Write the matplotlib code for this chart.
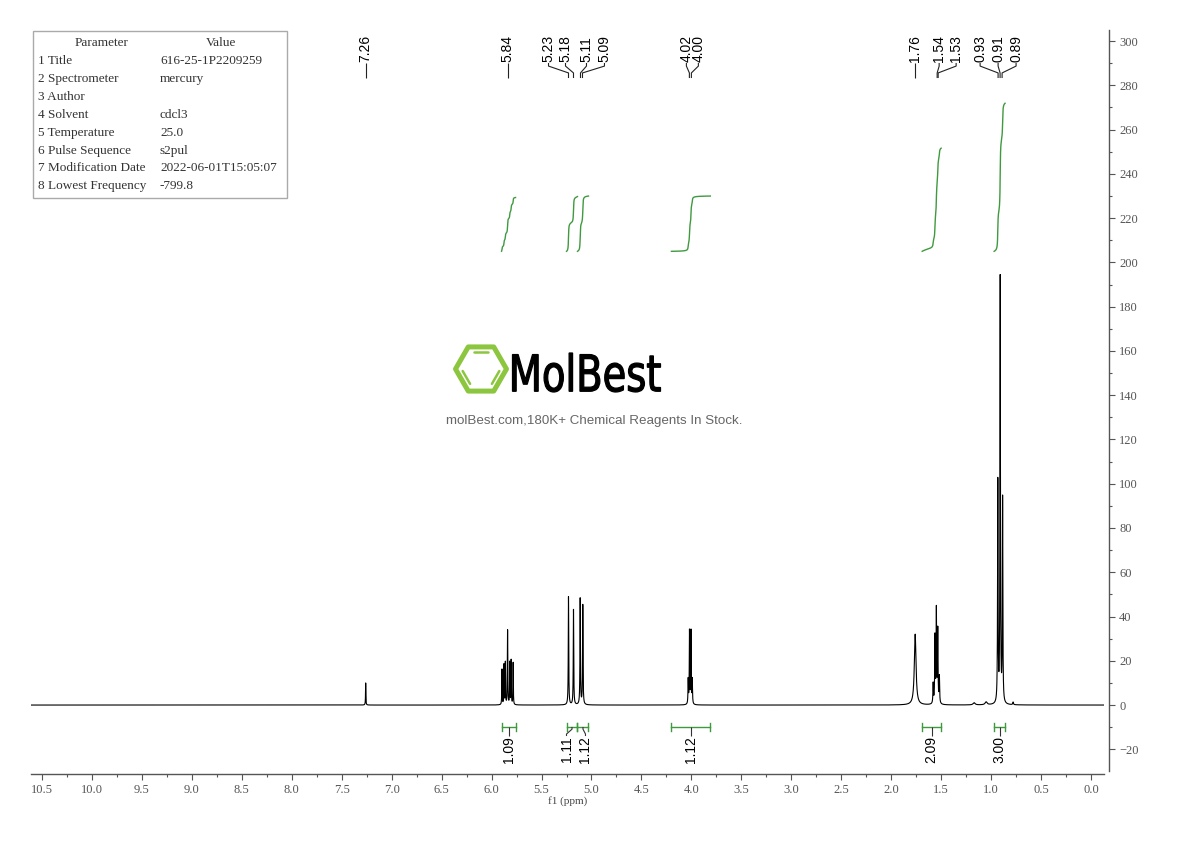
import numpy as np
import matplotlib
matplotlib.use('Agg')
import matplotlib.pyplot as plt
from matplotlib.patches import Rectangle, Polygon, PathPatch
from matplotlib.textpath import TextPath
from matplotlib.font_manager import FontProperties
from matplotlib.transforms import Affine2D
from matplotlib.ticker import MultipleLocator, FormatStrFormatter

# peak list: shift (ppm), height, half width (ppm)
peak_ppm = [7.26,
            5.896, 5.876, 5.862, 5.841, 5.839, 5.818, 5.804, 5.784,
            5.230, 5.180, 5.113, 5.087,
            4.032, 4.019, 4.004, 3.991,
            1.76,
            1.580, 1.562, 1.548, 1.534, 1.518,
            1.17, 1.05,
            0.933, 0.909, 0.885,
            0.78]
peak_height = [10,
               16, 18, 19, 21, 21, 19, 20, 19,
               49, 43, 48, 45,
               11, 33, 33, 11,
               32,
               9, 30, 42, 33, 12,
               1.0, 1.3,
               100, 192, 92,
               1.2]
peak_width = [0.002,
              0.002, 0.002, 0.002, 0.002, 0.002, 0.002, 0.002, 0.002,
              0.0026, 0.0026, 0.0026, 0.0026,
              0.0025, 0.0025, 0.0025, 0.0025,
              0.010,
              0.003, 0.003, 0.003, 0.003, 0.003,
              0.012, 0.012,
              0.0028, 0.0028, 0.0028,
              0.004]

# labelled shifts (top) and where their labels sit
shift_values = [7.26, 5.84, 5.23, 5.18, 5.11, 5.09, 4.02, 4.00, 1.76, 1.54, 1.53, 0.93, 0.91, 0.89]
shift_label_x = [7.26, 5.84, 5.43, 5.26, 5.05, 4.87, 4.05, 3.93, 1.76, 1.52, 1.35, 1.11, 0.93, 0.75]

# integrals
int_start = [5.90, 5.25, 5.14, 4.20, 1.69, 0.97]
int_end = [5.76, 5.14, 5.03, 3.81, 1.50, 0.86]
int_values = [1.09, 1.11, 1.12, 1.12, 2.09, 3.00]
int_label_x = [5.83, 5.25, 5.06, 4.005, 1.595, 0.915]

param_names = ['Title', 'Spectrometer', 'Author', 'Solvent', 'Temperature',
               'Pulse Sequence', 'Modification Date', 'Lowest Frequency']
param_values = ['616-25-1P2209259', 'mercury', '', 'cdcl3', '25.0',
                's2pul', '2022-06-01T15:05:07', '-799.8']

GREEN = '#3f9a3f'
LOGO_GREEN = '#8cc63f'
SERIF = 'Liberation Serif'
SANS = 'Liberation Sans'


def spectrum(x):
    y = np.zeros_like(x)
    for p, h, w in zip(peak_ppm, peak_height, peak_width):
        y += h * w ** 2 / ((x - p) ** 2 + w ** 2)
    return y


def leader(ax, x_near, x_far, ys, color):
    # near end sits at the peak / bracket, far end at the label
    ax.plot([x_near, x_near, x_far, x_far], ys, color=color, lw=0.8,
            solid_capstyle='butt')


fig = plt.figure(figsize=(11.9, 8.41), dpi=100)
ax = fig.add_axes([31 / 1190, 70 / 841, 1073 / 1190, 741 / 841])

x = np.linspace(10.61, -0.13, 30000)
y = spectrum(x)
ax.plot(x, y, color='black', lw=0.8)

ax.set_xlim(10.61, -0.13)
ax.set_ylim(-29.8, 305)

# integral curves + brackets
for s, e, v, lx in zip(int_start, int_end, int_values, int_label_x):
    m = (x <= s) & (x >= e)
    cum = np.cumsum(y[m])
    ax.plot(x[m], 205 + 22.3 * v * cum / cum[-1], color=GREEN, lw=1.0)
    ax.plot([s, e], [-9.9, -9.9], color=GREEN, lw=1.0)
    ax.plot([s, s], [-11.7, -8.1], color=GREEN, lw=1.0)
    ax.plot([e, e], [-11.7, -8.1], color=GREEN, lw=1.0)
    c = (s + e) / 2
    leader(ax, c, lx, [-9.9, -10.9, -13.1, -14.0], '#333333')
    ax.text(lx, -14.2, '%.2f' % v, rotation=90, ha='center', va='top',
            fontsize=10, family=SANS)

# peak labels
for p, lx in zip(shift_values, shift_label_x):
    leader(ax, p, lx, [283.3, 285.6, 288.7, 290.1], '#222222')
    ax.text(lx, 290.6, '%.2f' % p, rotation=90, ha='center', va='bottom',
            fontsize=10, family=SANS)

# axes styling
for side in ['top', 'left']:
    ax.spines[side].set_visible(False)
ax.spines['right'].set_position(('outward', 3.6))
ax.spines['bottom'].set_position(('outward', 2.2))
for side in ['right', 'bottom']:
    ax.spines[side].set_color('#555555')
    ax.spines[side].set_linewidth(1.0)

ax.yaxis.tick_right()
ax.set_yticks(np.arange(-20, 301, 20))
ax.yaxis.set_minor_locator(MultipleLocator(10))
ax.set_xticks(np.arange(0, 10.51, 0.5))
ax.xaxis.set_minor_locator(MultipleLocator(0.25))
ax.xaxis.set_major_formatter(FormatStrFormatter('%.1f'))
ax.tick_params(which='major', length=4.2, width=0.8, color='#555555',
               labelsize=9, labelcolor='#555555', pad=3)
ax.tick_params(which='minor', length=2.5, width=0.8, color='#555555')
for lab in ax.get_xticklabels() + ax.get_yticklabels():
    lab.set_family(SERIF)
ax.set_xlabel('f1 (ppm)', fontsize=8, family=SERIF, color='#444444', labelpad=0)

# overlay in pixel coordinates for the parameter box and the logo
ov = fig.add_axes([0, 0, 1, 1])
ov.set_xlim(0, 1190)
ov.set_ylim(841, 0)
ov.axis('off')
ov.patch.set_alpha(0)

ov.add_patch(Rectangle((33, 31), 254, 167, fill=False, ec='#aaaaaa', lw=1.0))
ov.text(102, 43, 'Parameter', ha='center', va='center', fontsize=9.5, family=SERIF, color='#333333')
ov.text(221, 43, 'Value', ha='center', va='center', fontsize=9.5, family=SERIF, color='#333333')
for i, (n, v) in enumerate(zip(param_names, param_values)):
    yy = 61 + i * 17.9
    ov.text(38, yy, '%d %s' % (i + 1, n), ha='left', va='center', fontsize=9.5,
            family=SERIF, color='#333333')
    ov.text(160, yy, v, ha='left', va='center', fontsize=9.5, family=SERIF, color='#333333')

# logo: hexagon with three inner bonds
cx, cy, r = 481, 369, 25.5
ang = np.radians(np.arange(0, 360, 60))
hx = cx + r * np.cos(ang)
hy = cy - r * np.sin(ang)
ov.add_patch(Polygon(np.column_stack([hx, hy]), closed=True, fill=False,
                     ec=LOGO_GREEN, lw=3.6, joinstyle='round'))
ri = 19.5
ix = cx + ri * np.cos(ang)
iy = cy - ri * np.sin(ang)
for a, b in [(1, 2), (3, 4), (5, 0)]:
    x0, y0, x1, y1 = ix[a], iy[a], ix[b], iy[b]
    ov.plot([x0 + 0.12 * (x1 - x0), x1 - 0.12 * (x1 - x0)],
            [y0 + 0.12 * (y1 - y0), y1 - 0.12 * (y1 - y0)],
            color=LOGO_GREEN, lw=1.8, solid_capstyle='round')

tp = TextPath((0, 0), 'MolBest', size=1, prop=FontProperties(family='DejaVu Sans'))
bb = tp.get_extents()
tr = Affine2D().translate(-bb.x0, -bb.y0).scale(148 / bb.width, -39 / bb.height).translate(512.5, 392)
ov.add_patch(PathPatch(tp, transform=tr + ov.transData, fc='black', ec='black', lw=0.9))
ov.text(594, 421, 'molBest.com,180K+ Chemical Reagents In Stock.', ha='center', va='center',
        fontsize=9.6, family=SANS, color='#666666')

fig.savefig('out.png', dpi=100)
